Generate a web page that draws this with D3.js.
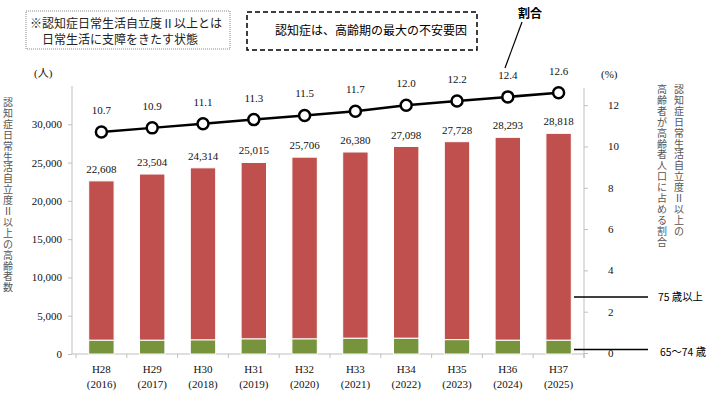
<!DOCTYPE html>
<html>
<head>
<meta charset="utf-8">
<style>
  body { margin: 0; background: #fff; }
  .num { font-family: "Liberation Serif", serif; font-size: 11px; fill: #111; }
  .jp { font-family: "Noto Sans CJK JP", sans-serif; }
  .axis path, .axis line { stroke: #bfbfbf; }
  .axis text { font-family: "Liberation Serif", serif; font-size: 11px; fill: #111; }
</style>
</head>
<body>
<svg width="710" height="395"></svg>
<script src="https://d3js.org/d3.v7.min.js"></script>
<script>
// data
var years = ["H28", "H29", "H30", "H31", "H32", "H33", "H34", "H35", "H36", "H37"];
var westernYears = ["(2016)", "(2017)", "(2018)", "(2019)", "(2020)", "(2021)", "(2022)", "(2023)", "(2024)", "(2025)"];
var totals = [22608, 23504, 24314, 25015, 25706, 26380, 27098, 27728, 28293, 28818];
var age65to74 = [1790, 1790, 1830, 1960, 1960, 2050, 2050, 1870, 1790, 1790];
var ratio = [10.7, 10.9, 11.1, 11.3, 11.5, 11.7, 12.0, 12.2, 12.4, 12.6];
var leftTicks = [0, 5000, 10000, 15000, 20000, 25000, 30000];
var rightTicks = [0, 2, 4, 6, 8, 10, 12];

var svg = d3.select("svg");

var x = d3.scaleBand().domain(years).range([76, 584]).paddingInner(0.5).paddingOuter(0.25);
var y = d3.scaleLinear().domain([0, 35000]).range([354, 86]);
var y2 = d3.scaleLinear().domain([0, 13]).range([353, 84.5]);
var cx = function (i) { return x(years[i]) + x.bandwidth() / 2; };

// axes
svg.append("g").attr("class", "axis")
    .attr("transform", "translate(72,0)")
    .call(d3.axisLeft(y).tickValues(leftTicks).tickSize(4).tickPadding(6).tickFormat(d3.format(",")))
    .call(function (g) { g.select(".domain").attr("d", "M0,86V354"); });

svg.append("g").attr("class", "axis")
    .attr("transform", "translate(584,0)")
    .call(d3.axisRight(y2).tickValues(rightTicks).tickSize(4).tickPadding(20))
    .call(function (g) { g.select(".domain").attr("d", "M0,88V358"); });

// x axis line and ticks between categories
var xa = svg.append("g").attr("class", "axis");
xa.append("line").attr("x1", 72).attr("x2", 584).attr("y1", 354).attr("y2", 354);
xa.selectAll(".sep").data(d3.range(years.length + 1)).enter().append("line")
    .attr("x1", function (i) { return 76 + i * x.step(); })
    .attr("x2", function (i) { return 76 + i * x.step(); })
    .attr("y1", 354).attr("y2", 358);

svg.append("g").selectAll("text").data(years).enter().append("text")
    .attr("class", "num").attr("text-anchor", "middle")
    .attr("x", function (d, i) { return cx(i); })
    .attr("y", 373).text(function (d) { return d; });
svg.append("g").selectAll("text").data(westernYears).enter().append("text")
    .attr("class", "num").attr("text-anchor", "middle")
    .attr("x", function (d, i) { return cx(i); })
    .attr("y", 388).text(function (d) { return d; });

// bars
var bars = svg.append("g");
bars.selectAll(".old").data(years).enter().append("rect")
    .attr("x", function (d) { return x(d); })
    .attr("width", x.bandwidth())
    .attr("y", function (d, i) { return y(totals[i]); })
    .attr("height", function (d, i) { return y(age65to74[i]) - y(totals[i]); })
    .attr("fill", "#c0504d").attr("stroke", "#fff").attr("stroke-width", 1);
bars.selectAll(".young").data(years).enter().append("rect")
    .attr("x", function (d) { return x(d); })
    .attr("width", x.bandwidth())
    .attr("y", function (d, i) { return y(age65to74[i]); })
    .attr("height", function (d, i) { return y(0) - y(age65to74[i]); })
    .attr("fill", "#77933c").attr("stroke", "#fff").attr("stroke-width", 1);

svg.append("g").selectAll("text").data(totals).enter().append("text")
    .attr("class", "num").attr("text-anchor", "middle")
    .attr("x", function (d, i) { return cx(i); })
    .attr("y", function (d) { return y(d) - 8; })
    .text(d3.format(","));

// ratio line
var line = d3.line()
    .x(function (d, i) { return cx(i); })
    .y(function (d) { return y2(d); });
svg.append("path").datum(ratio).attr("d", line)
    .attr("fill", "none").attr("stroke", "#000").attr("stroke-width", 2.5);
svg.append("g").selectAll("circle").data(ratio).enter().append("circle")
    .attr("cx", function (d, i) { return cx(i); })
    .attr("cy", function (d) { return y2(d); })
    .attr("r", 5.5).attr("fill", "#fff").attr("stroke", "#000").attr("stroke-width", 2.5);
svg.append("g").selectAll("text").data(ratio).enter().append("text")
    .attr("class", "num").attr("text-anchor", "middle")
    .attr("x", function (d, i) { return cx(i); })
    .attr("y", function (d) { return y2(d) - 18; })
    .text(d3.format(".1f"));

// unit labels
svg.append("text").attr("class", "num").attr("x", 34).attr("y", 77).text("(人)")
    .style("font-family", "'Liberation Serif', 'Noto Sans CJK JP', serif");
svg.append("text").attr("class", "num").attr("x", 601).attr("y", 78).text("(%)");

// vertical axis titles, one glyph per row
function vtext(xp, yp, s) {
  var g = svg.append("text").attr("class", "jp")
      .attr("text-anchor", "middle")
      .style("font-size", "10px").attr("fill", "#555");
  Array.from(s).forEach(function (ch, i) {
    g.append("tspan").attr("x", xp).attr("y", yp + 9 + i * 10.9).text(ch);
  });
}
vtext(8, 97, "認知症日常生活自立度Ⅱ以上の高齢者数");
vtext(679, 84, "認知症日常生活自立度Ⅱ以上の");
vtext(662, 84, "高齢者が高齢者人口に占める割合");

// legend callouts
svg.append("line").attr("x1", 574).attr("x2", 648).attr("y1", 297).attr("y2", 297).attr("stroke", "#000").attr("stroke-width", 1.5);
svg.append("line").attr("x1", 574).attr("x2", 648).attr("y1", 349.5).attr("y2", 349.5).attr("stroke", "#000").attr("stroke-width", 1.5);
svg.append("text").attr("class", "jp").attr("x", 658).attr("y", 301).style("font-size", "11px")
    .attr("textLength", 45).attr("lengthAdjust", "spacingAndGlyphs").text("75 歳以上");
svg.append("text").attr("class", "jp").attr("x", 660).attr("y", 356).style("font-size", "11px")
    .attr("textLength", 46).attr("lengthAdjust", "spacingAndGlyphs").text("65～74 歳");

svg.append("text").attr("class", "jp").attr("x", 530).attr("y", 18).attr("text-anchor", "middle")
    .style("font-size", "12px").style("font-weight", "bold").text("割合");
svg.append("line").attr("x1", 522).attr("y1", 22).attr("x2", 505).attr("y2", 68).attr("stroke", "#000").attr("stroke-width", 1.2);

// boxes
svg.append("rect").attr("x", 26).attr("y", 11).attr("width", 204).attr("height", 38)
    .attr("fill", "#fff").attr("stroke", "#888").attr("stroke-dasharray", "1,1");
svg.append("text").attr("class", "jp").attr("x", 30).attr("y", 28).style("font-size", "12px").attr("fill", "#222")
    .text("※認知症日常生活自立度Ⅱ以上とは");
svg.append("text").attr("class", "jp").attr("x", 42).attr("y", 44).style("font-size", "12px").attr("fill", "#222")
    .text("日常生活に支障をきたす状態");

svg.append("rect").attr("x", 247).attr("y", 12).attr("width", 230).attr("height", 38)
    .attr("fill", "#fff").attr("stroke", "#000").attr("stroke-width", 1.5).attr("stroke-dasharray", "5,3");
svg.append("text").attr("class", "jp").attr("x", 275).attr("y", 35).style("font-size", "12px").attr("fill", "#000")
    .text("認知症は、高齢期の最大の不安要因");
</script>
</body>
</html>
